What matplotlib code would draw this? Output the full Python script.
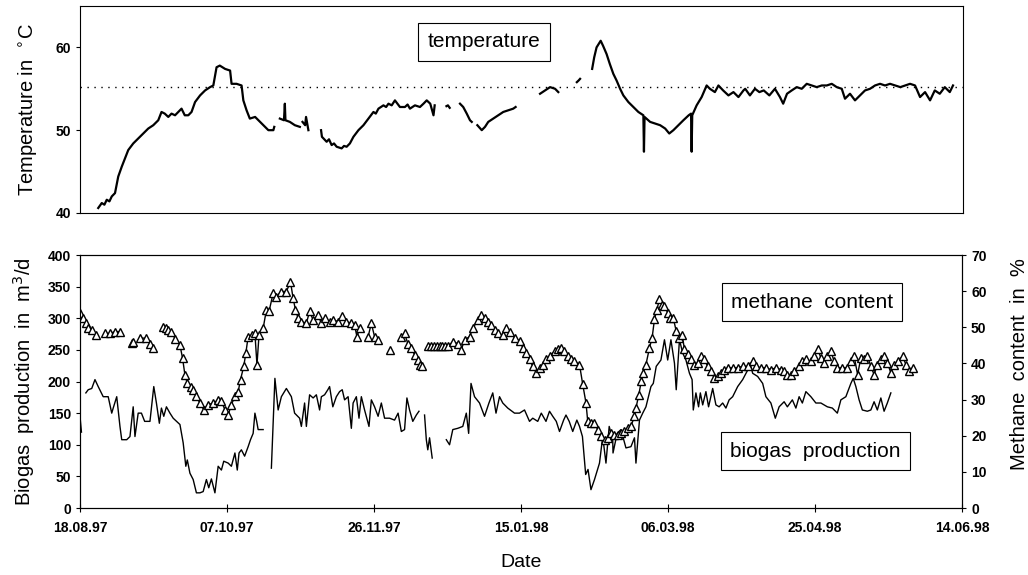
import matplotlib
import matplotlib.pyplot as plt
import matplotlib.dates as mdates
import numpy as np
import pandas as pd

matplotlib.use("Agg")
plt.rcParams["font.family"] = ["Liberation Sans", "DejaVu Sans"]

nan = np.nan
start = pd.Timestamp("1997-08-18")

# temperature (top panel), days after 18.08.97, degC; nan = gap in record
temp_day = [
    6.2, 7.4, 8.3, 9.1, 10.0, 10.8, 11.9, 13.0, 14.2, 15.3, 16.4, 18.1, 19.8, 21.5, 23.2,
    24.9, 26.6, 27.7, 28.8, 30.0, 31.1, 32.3, 33.4, 34.5, 35.6, 36.8, 37.9, 39.1, 40.8,
    42.5, 44.2, 45.3, 46.4, 47.5, 49.3, 51.0, 51.5, 53.2, 54.9, 55.5, 56.6, 57.7, 59.5,
    61.2, 62.9, 64.0, 65.7, 66.0, nan,
    67.9, 69.3, 69.6, 69.8, 71.3, 73.0, 74.7, nan,
    75.6, 76.5, 76.8, 77.6, nan,
    81.9, 82.2, 83.8, 84.6, 85.5, 86.3, 87.2, 88.9, 89.7, 90.6, 91.7, 92.9, 94.6, 96.3,
    98.0, 99.7, 100.5, 101.4, 103.1, 104.0, 104.8, 105.9, 107.0, 108.7, 110.4, 111.3,
    112.1, 113.8, 115.5, 116.7, 117.8, 119.0, 120.1, 120.5, nan,
    124.5, 125.0, 125.6, nan,
    129.1, 130.2, 131.4, 132.5, 133.1, nan,
    135.0, 136.5, 137.6, 138.7, 140.4, 142.1, 143.8, 145.5, 147.2, 148.0, nan,
    156.3, 158.0, 159.7, 161.4, 162.5, nan,
    168.8, 169.4, 169.9, nan,
    174.0, 174.7, 175.5, 176.9, 177.7, 178.9, 180.0, 181.2, 182.3, 183.5, 184.6, 186.3,
    188.0, 189.7, 191.4, 191.6, 191.8, 193.7, 195.4, 197.1, 198.8, 200.2, 201.6, 203.3,
    205.0, 206.8, 207.6, 207.8, 208.0, 209.5, 211.2, 212.9, 214.0, 215.7, 216.9, 218.5,
    220.3, 222.0, 223.7, 225.4, 226.0, 227.6, 229.3, 230.8, 232.3, 234.2, 236.1, 237.8,
    238.9, 240.2, 241.8, 243.5, 245.2, 246.9, 248.6, 250.3, 252.0, 253.7, 255.4, 257.1,
    258.8, 259.9, 261.6, 263.3, 265.0, 266.7, 268.4, 270.1, 271.8, 273.5, 275.2, 277.0,
    278.7, 280.3, 282.0, 283.7, 285.4, 287.1, 288.8, 290.4, 292.1, 293.8, 295.5, 296.6,
]
temp_val = [
    40.6, 41.2, 41.0, 41.6, 41.4, 42.0, 42.4, 44.4, 45.6, 46.6, 47.6, 48.4, 49.0, 49.6, 50.2,
    50.6, 51.2, 52.2, 52.0, 51.6, 52.0, 51.8, 52.2, 52.6, 51.8, 51.8, 52.2, 53.4, 54.2,
    54.8, 55.2, 55.4, 57.6, 57.8, 57.4, 57.2, 55.6, 55.6, 55.4, 53.6, 52.4, 51.4, 51.6,
    51.0, 50.4, 50.0, 50.0, 50.4, nan,
    51.4, 51.2, 53.2, 51.2, 51.0, 50.6, 50.4, nan,
    51.0, 50.6, 51.6, 50.0, nan,
    50.0, 49.2, 48.6, 48.9, 48.2, 48.4, 48.0, 47.8, 48.1, 48.0, 48.4, 49.2, 50.0, 50.6,
    51.4, 52.2, 52.0, 52.6, 53.0, 52.8, 53.2, 53.0, 53.6, 52.8, 52.8, 53.1,
    52.6, 53.0, 52.8, 53.2, 53.6, 53.2, 51.8, 53.0, nan,
    52.9, 53.0, 52.7, nan,
    53.2, 52.8, 52.0, 51.2, 51.0, nan,
    50.6, 50.0, 50.4, 51.0, 51.4, 51.8, 52.2, 52.4, 52.6, 52.8, nan,
    54.4, 54.8, 55.2, 55.0, 54.6, nan,
    55.8, 56.0, 56.2, nan,
    57.4, 58.8, 60.0, 60.8, 60.2, 59.2, 58.0, 56.8, 56.0, 55.0, 54.2, 53.4,
    52.8, 52.2, 51.8, 47.4, 51.6, 51.0, 50.8, 50.6, 50.2, 49.6, 50.0, 50.6,
    51.2, 51.8, 52.0, 47.4, 51.8, 53.0, 54.0, 55.4, 55.0, 54.6, 55.4, 54.8,
    54.2, 54.6, 54.0, 54.8, 55.0, 54.2, 55.0, 54.6, 54.8, 54.2, 55.0, 54.0,
    53.2, 54.4, 54.8, 55.2, 55.0, 55.6, 55.4, 55.2, 55.4, 55.4, 55.6, 55.2,
    55.0, 53.8, 54.4, 53.6, 54.2, 54.8, 55.0, 55.4, 55.6, 55.4, 55.6, 55.4,
    55.2, 55.4, 55.6, 55.4, 54.0, 54.6, 53.6, 54.8, 54.4, 55.2, 54.6, 55.4,
]
temp_setpoint = 55.2

# biogas production, m3/d
gas_day = [
    0.0, 0.5, nan,
    2.0, 2.8, 4.0, 5.1, 6.2, 7.9, 9.6, 10.8, 11.3, 12.5, 13.6, 14.2, 15.9, 17.0, 18.1,
    18.7, 19.8, 20.9, 22.0, 23.8, 25.1, 26.0, 27.0, 27.7, 28.5, 29.4, 30.6, 31.7, 34.0,
    35.1, 36.0, 36.5, 37.4, 38.5, 39.6, 40.8, 41.9, 43.0, 43.8, 44.7, 45.9, 47.0, 48.1,
    48.9, 50.4, 51.5, 52.7, 53.5, 54.1, 54.9, 56.0, 57.2, 58.0, 58.9, 59.5, 60.1, 60.6,
    62.3, nan,
    65.1, 66.3, 67.4, 68.5, 70.2, 71.9, 73.0, 74.7, 75.3, 76.4, 77.0, 78.1, 79.3, 80.4,
    81.5, 82.1, 83.2, 84.3, 84.9, 86.0, 87.2, 88.3, 89.2, 90.0, 91.2, 92.3, 92.9, 94.0,
    94.9, 95.7, 96.8, 98.3, 99.1, 100.2, 101.4, 102.5, 103.6, 105.3, 107.0, 108.2,
    109.3, 110.4, 111.2, 112.1, 113.2, 114.4, 115.3, nan,
    117.2, 117.8, 118.3, 118.9, 119.8, nan,
    124.6, 125.7, 126.8, 128.5, 130.2, 131.4, 132.2, 133.0, 134.2, 135.9, 137.6, 139.1,
    140.4, 141.5, 142.7, 143.8, 145.5, 147.8, 149.5, 151.2, 152.9, 154.0, 155.7, 156.9,
    158.5, 159.7, 160.8, 162.0, 163.1, 164.5, 165.3, 166.4, 167.6, 169.0, 169.9, 170.9,
    172.0, 172.8, 173.8, 175.0, 176.7, 177.8, 178.9, 180.0, 181.2, 181.3, 182.7, 184.0,
    185.7, 187.4, 188.6, 189.1, 190.3, 191.4, 192.5, 194.2, 195.0, 196.0, 197.6, 198.8,
    199.9, 201.0, 202.2, 202.8, 203.9, 205.0, 206.1, 207.3, 208.2, 208.6, 209.5, 210.4,
    211.0, 211.8, 212.9, 213.8, 215.2, 216.3, 217.4, 218.6, 219.7, 220.8, 222.0, 223.7,
    225.4, 227.1, 227.9, 228.8, 230.5, 232.2, 233.3, 235.0, 236.5, 237.8, 239.5, 240.6,
    242.3, 243.5, 244.6, 245.7, 246.9, 248.6, 250.3, 252.0, 254.2, 255.9, 257.6, 258.8,
    260.5, 262.2, 263.0, 263.9, 265.0, 266.1, 267.8, 269.0, 270.1, 271.2, 272.4, 273.5,
    274.6, 275.8,
]
gas_val = [
    145, 120, nan,
    182, 187, 189, 203, 192, 176, 176, 150, 158, 176, 129, 108, 108, 113, 160,
    113, 150, 150, 137, 137, 192, 166, 134, 158, 145, 160, 150, 142, 132,
    103, 66, 76, 55, 45, 24, 24, 26, 45, 32, 46, 24, 66, 60,
    74, 71, 66, 87, 60, 87, 92, 82, 97, 108, 118, 150, 137, 124,
    124, nan,
    63, 205, 155, 176, 189, 176, 150, 142, 129, 166, 129, 179, 174, 179,
    155, 176, 179, 187, 192, 160, 176, 184, 187, 171, 176, 126, 166, 176,
    142, 176, 155, 129, 171, 160, 145, 166, 142, 142, 139, 150,
    121, 124, 174, 155, 137, 147, 153, nan,
    147, 108, 92, 111, 79, nan,
    108, 100, 124, 126, 129, 150, 118, 197, 176, 166, 145, 166,
    182, 150, 176, 166, 158, 150, 150, 155, 137, 142, 137, 150,
    137, 153, 145, 137, 121, 139, 147, 137, 121, 139, 129, 113,
    53, 61, 29, 45, 71, 113, 71, 129, 108, 87, 118, 124,
    95, 97, 111, 71, 139, 150, 160, 192, 197, 224, 234, 266,
    234, 266, 229, 187, 266, 245, 234, 213, 203, 155, 182, 160,
    182, 163, 184, 160, 189, 163, 160, 166, 158, 171, 176, 192,
    203, 218, 229, 213, 208, 197, 176, 166, 142, 160, 168, 160,
    171, 158, 176, 166, 184, 176, 166, 166, 160, 158, 150, 171,
    176, 197, 205, 192, 171, 155, 153, 155, 168, 155, 174, 153,
    166, 182,
]

# methane content, %
ch4_day = [
    0.0, 0.9, 2.0, 2.8, 4.0, 5.4, nan,
    8.5, 10.2, 11.9, 13.6, nan,
    17.6, 18.2, nan,
    20.4, 22.6, 23.8, 24.9, nan,
    28.3, 29.2, 30.0, 31.1, 32.3, 34.0, 34.9, 35.7, 36.5, 37.6, 38.5, 39.6, 40.8, 42.1,
    43.6, 45.3, 47.0, 48.1, 49.3, 50.4, 51.5, 52.7, 53.8, 54.6, 55.7, 56.4, 57.2, 58.4,
    59.5, 60.2, 60.9, 62.3, 63.4, 64.3, 65.7, 66.8, 68.5, 70.2, 71.6, 72.5, 73.3, 74.2,
    75.3, 77.0, 78.1, 79.3, 81.0, 82.1, 83.2, 84.9, 86.0, 87.8, 89.2, 90.6, 92.3, 93.4,
    94.2, 95.1, nan,
    98.0, 99.1, 100.2, 101.4, nan,
    105.3, nan,
    109.3, 110.4, 111.5, 112.7, 113.8, 114.9, 115.7, 116.4, nan,
    118.3, 119.3, 120.3, 121.3, 122.3, 123.3, 124.3, 125.2, 126.8, 128.5, 129.7, 130.8,
    132.5, 133.6, 135.3, 136.5, 137.6, 138.7, 139.8, 141.0, 142.1, 143.8, 145.0, 146.1,
    147.8, 149.5, 150.7, 151.8, 152.9, 154.0, 155.2, 156.3, 157.4, 158.5, 159.7, 161.4,
    162.5, 163.6, 164.7, 165.9, 167.0, 168.2, 169.9, 171.0, 172.1, 172.7, 173.8, 174.9,
    176.1, 177.2, 178.7, 179.5, 180.6, 181.7, 182.9, 184.0, 185.2, 186.3, 187.4, 188.6,
    189.1, 190.1, 190.9, 191.6, 192.5, 193.7, 194.6, 195.4, 196.2, 197.1, 198.0, 198.8,
    199.9, 200.7, 201.8, 202.8, 203.9, 204.8, 205.6, 206.7, 207.8, 208.9, 210.1, 211.2,
    212.3, 213.5, 214.6, 215.7, 216.9, 218.0, 219.1, 220.3, 222.0, 223.7, 225.4, 227.1,
    228.8, 229.9, 231.6, 233.3, 235.0, 236.7, 238.4, 239.5, 240.6, 241.8, 242.9, 244.6,
    245.7, 246.9, 248.6, 249.7, 250.9, 252.0, 253.1, 254.2, 255.4, 256.5, 257.6, 259.3,
    261.0, 262.2, 263.3, 264.5, 265.6, 266.7, 267.8, 269.0, 270.1, 271.2, 272.4, 273.5,
    274.6, 275.8, 277.0, 278.1, 279.8, 280.9, 282.0, 283.2,
]
ch4_val = [
    53.9, 52.5, 51.1, 49.7, 49.3, 47.9, nan,
    48.3, 48.3, 48.8, 48.8, nan,
    45.6, 46.0, nan,
    47.0, 47.0, 45.5, 44.2, nan,
    50.2, 49.7, 49.3, 48.8, 46.9, 45.1, 41.4, 36.8, 34.5, 33.6, 32.7, 30.9, 29.0, 27.2,
    28.6, 29.0, 29.9, 29.5, 27.2, 25.8, 28.6, 30.9, 32.2, 35.5, 39.2, 42.8, 47.4, 47.9,
    48.3, 39.6, 47.9, 49.7, 54.8, 54.4, 59.4, 58.5, 59.9, 59.9, 62.6, 58.0, 54.8, 52.5,
    51.6, 51.1, 54.4, 52.0, 53.4, 51.1, 52.5, 51.6, 52.0, 51.6, 53.0, 51.6, 51.1, 50.6,
    47.4, 49.7, nan,
    47.4, 51.1, 47.4, 46.5, nan,
    43.8, nan,
    47.4, 48.3, 45.5, 44.3, 42.4, 41.0, 39.6, 39.2, nan,
    44.8, 44.8, 44.8, 44.8, 44.8, 44.8, 44.8, 44.8, 46.0, 45.5, 43.8, 46.5,
    47.4, 49.7, 52.0, 53.4, 52.5, 51.6, 50.6, 49.3, 48.3, 47.9, 49.7, 48.8,
    47.1, 46.2, 44.3, 42.9, 41.1, 39.2, 37.4, 38.8, 39.7, 41.1, 42.0, 43.4,
    43.9, 44.3, 43.4, 42.0, 41.1, 40.6, 39.7, 34.2, 29.1, 24.0, 23.5, 23.5,
    21.7, 19.9, 18.9, 19.4, 20.8, 20.3, 20.3, 20.8, 21.2, 22.2, 22.6, 25.4,
    27.7, 31.4, 35.1, 37.4, 39.7, 44.3, 47.1, 52.2, 54.9, 57.7, 56.3, 55.9,
    54.0, 52.6, 52.6, 48.9, 47.1, 48.0, 43.9, 42.5, 41.1, 39.7, 40.2, 42.0,
    41.1, 39.2, 37.9, 36.0, 36.5, 37.4, 38.3, 38.8, 38.8, 38.8, 39.2, 39.2,
    40.6, 39.2, 38.8, 38.8, 38.3, 38.8, 38.3, 37.9, 36.9, 36.9, 37.9, 39.2,
    40.6, 41.1, 40.6, 42.0, 43.9, 41.6, 40.2, 42.0, 43.4, 40.6, 38.8, 38.8,
    38.8, 40.6, 42.0, 36.9, 41.6, 41.1, 42.0, 39.2, 36.9, 39.7, 41.1, 42.0,
    40.2, 37.4, 39.7, 40.6, 42.0, 39.7, 37.9, 38.8,
]

tick_days = [0, 50, 100, 150, 200, 250, 300]


def to_dates(days):
    return start + pd.to_timedelta(np.asarray(days, dtype=float), unit="D")


fig = plt.figure(figsize=(10.28, 5.75), dpi=100)
ax_t = fig.add_axes([0.0778, 0.6296, 0.859, 0.36])
ax_b = fig.add_axes([0.0778, 0.1165, 0.858, 0.44])
ax_m = ax_b.twinx()

xlim = (to_dates([0])[0], to_dates([300])[0])

# top panel: temperature
ax_t.plot(to_dates(temp_day), temp_val, color="black", linewidth=1.6)
ax_t.axhline(temp_setpoint, color="black", linestyle=(0, (1, 4)), linewidth=1)
ax_t.set_xlim(xlim)
ax_t.set_ylim(40, 65)
ax_t.set_yticks([40, 50, 60])
ax_t.tick_params(axis="x", bottom=False, labelbottom=False)
ax_t.tick_params(axis="y", direction="out", length=3, labelsize=10)
ax_t.set_ylabel("Temperature in  $^{\\circ}$C", fontsize=14.5, labelpad=12)
ax_t.text(0.4575, 0.826, "temperature", transform=ax_t.transAxes, ha="center", va="center",
          fontsize=15, bbox=dict(boxstyle="square,pad=0.45", fc="white", ec="black", lw=0.8))

# bottom panel: biogas + methane
ax_b.plot(to_dates(gas_day), gas_val, color="black", linewidth=1)
ax_m.plot(to_dates(ch4_day), ch4_val, color="black", linewidth=1, marker="^",
          markersize=5.5, markerfacecolor="white", markeredgecolor="black", markeredgewidth=1)
ax_b.set_xlim(xlim)
ax_b.set_ylim(0, 400)
ax_b.set_yticks(np.arange(0, 401, 50))
ax_m.set_ylim(0, 70)
ax_m.set_yticks(np.arange(0, 71, 10))
ax_b.set_xticks(to_dates(tick_days))
ax_b.xaxis.set_major_formatter(mdates.DateFormatter("%d.%m.%y"))
ax_b.tick_params(axis="x", direction="inout", length=6, labelsize=10, pad=6)
ax_b.tick_params(axis="y", direction="out", length=3, labelsize=10)
ax_m.tick_params(axis="y", direction="out", length=3, labelsize=10)
for lab in ax_b.get_xticklabels() + ax_b.get_yticklabels() + ax_m.get_yticklabels() + ax_t.get_yticklabels():
    lab.set_fontweight("bold")

ax_b.set_ylabel("Biogas  production  in  m$^3$/d", fontsize=14.5, labelpad=8)
ax_m.set_ylabel("Methane  content  in  %", fontsize=14.5)
ax_m.yaxis.set_label_coords(1.054, 0.57)
ax_b.set_xlabel("Date", fontsize=14, labelpad=14)

ax_m.text(0.83, 0.814, "methane  content", transform=ax_b.transAxes, ha="center", va="center",
          fontsize=15, bbox=dict(boxstyle="square,pad=0.45", fc="white", ec="black", lw=0.8))
ax_m.text(0.834, 0.225, "biogas  production", transform=ax_b.transAxes, ha="center", va="center",
          fontsize=15, bbox=dict(boxstyle="square,pad=0.45", fc="white", ec="black", lw=0.8))

fig.savefig("out.png", dpi=100)
